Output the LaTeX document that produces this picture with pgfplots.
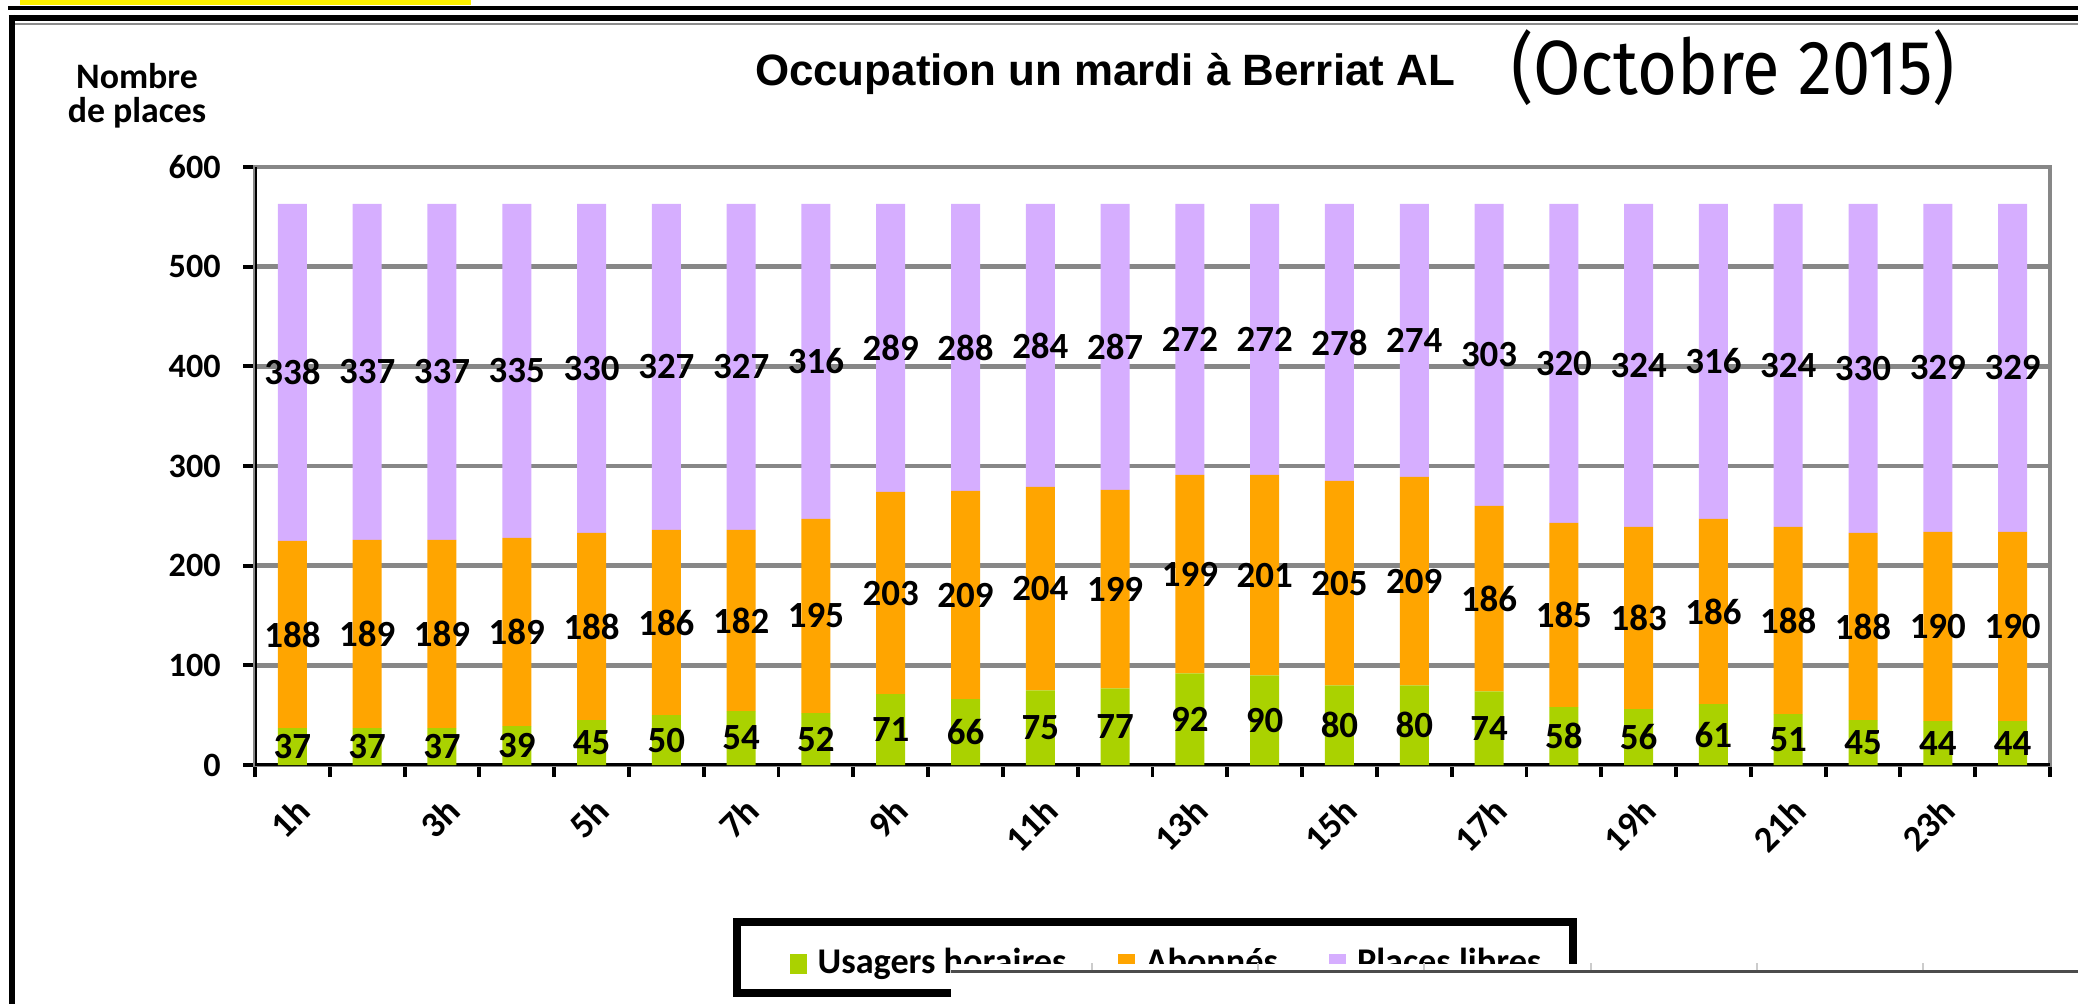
\documentclass[border=0pt]{standalone}
\usepackage{graphicx}
\usepackage{pgfplots}
\pgfplotsset{compat=1.18}
\usepackage{pgfplotstable}
\usepackage{fontspec}
\setmainfont{Carlito}
\newfontfamily\titlefont{Liberation Sans}
\newfontfamily\octfont{Fira Sans}
\definecolor{cgreen}{RGB}{170,210,0}
\definecolor{corange}{RGB}{255,165,0}
\definecolor{cpurple}{RGB}{214,174,255}
\definecolor{cgrid}{RGB}{135,135,135}
\definecolor{cyell}{RGB}{255,242,0}

\pgfplotstableread{
x g o p
0 37 188 338
1 37 189 337
2 37 189 337
3 39 189 335
4 45 188 330
5 50 186 327
6 54 182 327
7 52 195 316
8 71 203 289
9 66 209 288
10 75 204 284
11 77 199 287
12 92 199 272
13 90 201 272
14 80 205 278
15 80 209 274
16 74 186 303
17 58 185 320
18 56 183 324
19 61 186 316
20 51 188 324
21 45 188 330
22 44 190 329
23 44 190 329
}\data

\pgfplotsset{
  sqlegend/.style={legend image code/.code={\fill[##1] (0cm,-0.1cm) rectangle (0.17cm,0.1cm); \path (0.21cm,0cm);}},
  samegeom/.style={at={(2.55cm,2.39cm)}, anchor=south west,
    scale only axis, width=17.95cm, height=5.98cm,
    xmin=-0.5, xmax=23.5, ymin=0, ymax=600},
  lbl/.style={draw=none, mark=none,
     nodes near coords, point meta=explicit symbolic,
     every node near coord/.append style={anchor=center, font=\bfseries\fontsize{10.5}{12}\selectfont, text=black, inner sep=0pt}},
}

\begin{document}
\begin{tikzpicture}
\path[use as bounding box] (0,0) rectangle (20.78,10.04);
% frame decoration
\fill[cyell] (0.20,10.04) rectangle (4.71,9.99);
\draw[black, line width=0.04cm] (0.08,9.96) -- (20.78,9.96);
\draw[black, line width=0.06cm] (0.09,9.86) -- (20.78,9.86);
\draw[black!45, line width=0.015cm] (0.15,9.80) -- (20.78,9.80);
\draw[black, line width=0.06cm] (0.12,9.89) -- (0.12,0);

\node[font=\titlefont\bfseries] at (11.05,9.30) {\resizebox{7.0cm}{!}{Occupation un mardi à Berriat AL}};
\node[inner sep=0pt] at (17.33,9.36) {\resizebox*{4.44cm}{0.76cm}{\octfont (Octobre 2015)}};
\node[align=center, inner sep=0pt, font=\bfseries\fontsize{10.2}{9.7}\selectfont] at (1.37,9.08) {Nombre\\de places};

\begin{axis}[
  samegeom,
  ybar stacked, bar width=0.29cm,
  ytick={0,100,...,600},
  xtick={-0.5,0.5,...,23.5}, xticklabels={},
  extra x ticks={0,2,...,22},
  extra x tick labels={1h,3h,5h,7h,9h,11h,13h,15h,17h,19h,21h,23h},
  extra x tick style={major tick length=0pt, tick label style={rotate=45, anchor=east, xshift=-0.08cm, yshift=-0.36cm, font=\bfseries\fontsize{10.4}{12}\selectfont}},
  tick pos=left,
  tick align=outside, major tick length=0.12cm,
  tick style={black, line width=1.1pt},
  ymajorgrids, grid style={cgrid, line width=1.3pt},
  axis line style={cgrid, line width=1.3pt},
  tick label style={font=\bfseries\fontsize{9.7}{11}\selectfont},
  yticklabel style={xshift=-0.1cm},
  /pgf/number format/assume math mode=true,
  legend columns=3,
  legend style={at={(0.2663,-0.2644)}, anchor=north west, draw=none,
    inner xsep=5.6mm, inner ysep=1.75mm,
    font=\bfseries\fontsize{10.3}{12}\selectfont,
    /tikz/every even column/.append style={column sep=4.4mm}},
  legend cell align=left,
]
\addplot[fill=cgreen, draw=none, sqlegend] table[x=x,y=g]{\data};
\addlegendentry{Usagers horaires}
\addplot[fill=corange, draw=none, sqlegend] table[x=x,y=o]{\data};
\addlegendentry{Abonnés}
\addplot[fill=cpurple, draw=none, sqlegend] table[x=x,y=p]{\data};
\addlegendentry{Places libres}

\draw[black, line width=1.1pt] (rel axis cs:0,0) -- (rel axis cs:1,0);
\draw[black, line width=1.1pt] (rel axis cs:0,0) -- (rel axis cs:0,1);
\end{axis}

% labels of the segments, centred in each segment
\begin{axis}[samegeom, hide axis, clip=false]
\addplot[lbl] table[x=x, y expr=\thisrow{g}/2, meta=g]{\data};
\addplot[lbl] table[x=x, y expr=\thisrow{g}+\thisrow{o}/2, meta=o]{\data};
\addplot[lbl] table[x=x, y expr=\thisrow{g}+\thisrow{o}+\thisrow{p}/2, meta=p]{\data};
\end{axis}

% legend frame
\draw[black, line width=2.2pt] (7.37,0.82) rectangle (15.73,0.11);

% overlay covering the lower part of the legend
\fill[white] (9.51,0) rectangle (20.78,0.40);
\draw[black!70, line width=0.9pt] (9.51,0.325) -- (20.78,0.325);
\foreach \xx in {10.92,12.58,14.24,15.91,17.57,19.23}
  \draw[black!20, line width=0.6pt] (\xx,0.34) -- (\xx,0.41);
\end{tikzpicture}
\end{document}
